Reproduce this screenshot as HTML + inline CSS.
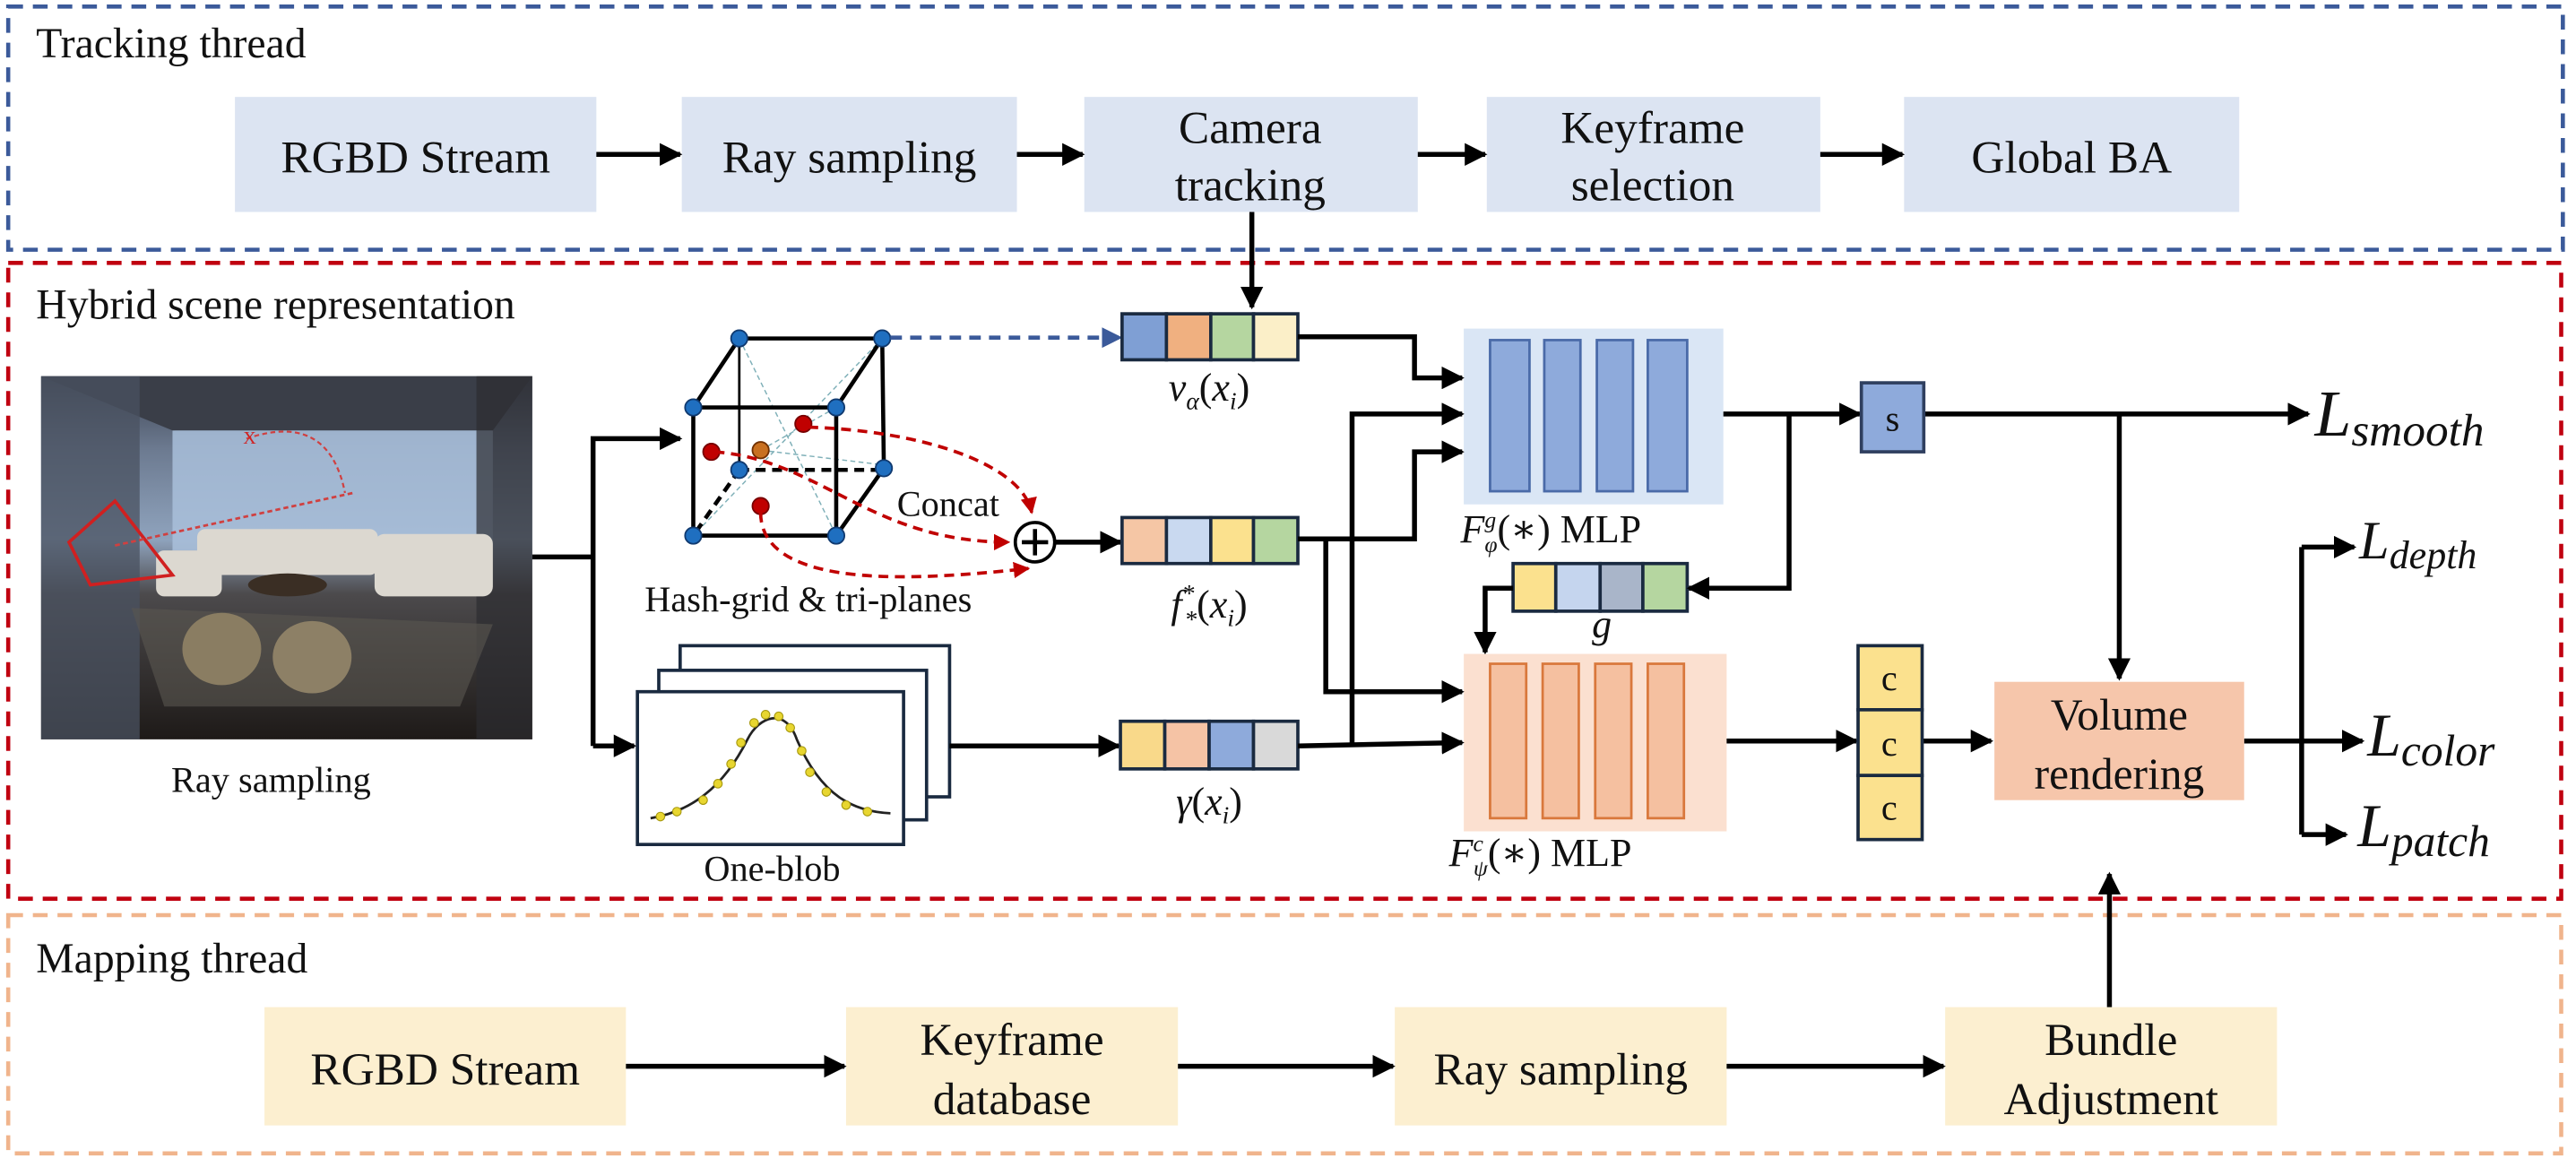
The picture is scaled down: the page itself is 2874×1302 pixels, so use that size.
<!DOCTYPE html>
<html><head><meta charset="utf-8"><style>
html,body{margin:0;padding:0;background:#fff;}
svg{display:block;}
svg text{font-family:"Liberation Serif","Times New Roman","Nimbus Roman","DejaVu Serif",serif;fill:#111;}
</style></head><body>
<svg width="2874" height="1302" viewBox="0 0 1568 710.3" preserveAspectRatio="none" xmlns="http://www.w3.org/2000/svg" font-family="'Liberation Serif', 'Times New Roman', serif">
<defs>
<marker id="a" viewBox="0 0 10 10" refX="9" refY="5" markerWidth="4.6" markerHeight="4.6" orient="auto" markerUnits="strokeWidth"><path d="M0,0 L10,5 L0,10 z" fill="#000"/></marker>
<marker id="ab" viewBox="0 0 10 10" refX="9" refY="5" markerWidth="5" markerHeight="5" orient="auto" markerUnits="strokeWidth"><path d="M0,0 L10,5 L0,10 z" fill="#3b5a9a"/></marker>
<marker id="ar" viewBox="0 0 10 10" refX="9" refY="5" markerWidth="5" markerHeight="5" orient="auto" markerUnits="strokeWidth"><path d="M0,0 L10,5 L0,10 z" fill="#c00000"/></marker>
<linearGradient id="room" x1="0" y1="0" x2="0" y2="1">
<stop offset="0" stop-color="#3c4250"/><stop offset="0.2" stop-color="#6c7a90"/><stop offset="0.45" stop-color="#8fa3bd"/><stop offset="0.6" stop-color="#4c4a4c"/><stop offset="1" stop-color="#1e1a18"/></linearGradient>
</defs>

<rect x="5" y="4" width="1555" height="148" fill="none" stroke="#3b5a9a" stroke-width="2.5" stroke-dasharray="9,6"/>
<rect x="5" y="160" width="1554" height="387" fill="none" stroke="#c00010" stroke-width="2.5" stroke-dasharray="9,6"/>
<rect x="5" y="557" width="1554" height="145" fill="none" stroke="#f0b48c" stroke-width="2.5" stroke-dasharray="9,6"/>

<text x="22" y="35" font-size="26">Tracking thread</text>
<text x="22" y="194" font-size="26">Hybrid scene representation</text>
<text x="22" y="592" font-size="26">Mapping thread</text>

<g fill="#dce4f2">
<rect x="143" y="59" width="220" height="70"/><rect x="415" y="59" width="204" height="70"/>
<rect x="660" y="59" width="203" height="70"/><rect x="905" y="59" width="203" height="70"/>
<rect x="1159" y="59" width="204" height="70"/></g>
<g font-size="28" text-anchor="middle">
<text x="253" y="105">RGBD Stream</text><text x="517" y="105">Ray sampling</text>
<text x="761" y="87">Camera</text><text x="761" y="122">tracking</text>
<text x="1006" y="87">Keyframe</text><text x="1006" y="122">selection</text>
<text x="1261" y="105">Global BA</text></g>
<g stroke="#000" stroke-width="3" marker-end="url(#a)">
<line x1="363" y1="94" x2="414" y2="94"/><line x1="619" y1="94" x2="659" y2="94"/>
<line x1="863" y1="94" x2="904" y2="94"/><line x1="1108" y1="94" x2="1158" y2="94"/>
<line x1="762" y1="129" x2="762" y2="187"/></g>

<g fill="#fcefd0">
<rect x="161" y="613" width="220" height="72"/><rect x="515" y="613" width="202" height="72"/>
<rect x="849" y="613" width="202" height="72"/><rect x="1184" y="613" width="202" height="72"/></g>
<g font-size="28" text-anchor="middle">
<text x="271" y="660">RGBD Stream</text>
<text x="616" y="642">Keyframe</text><text x="616" y="678">database</text>
<text x="950" y="660">Ray sampling</text>
<text x="1285" y="642">Bundle</text><text x="1285" y="678">Adjustment</text></g>
<g stroke="#000" stroke-width="3" marker-end="url(#a)">
<line x1="381" y1="649" x2="514" y2="649"/><line x1="717" y1="649" x2="848" y2="649"/>
<line x1="1051" y1="649" x2="1183" y2="649"/><line x1="1284" y1="613" x2="1284" y2="532"/></g>

<rect x="25" y="229" width="299" height="221" fill="url(#room)"/>
<polygon points="105,262 250,250 300,262 300,335 105,335" fill="#a9c0da" opacity="0.85"/>
<polygon points="25,229 324,229 300,262 105,262" fill="#3a3e48"/>
<rect x="25" y="229" width="60" height="221" fill="#4a5260" opacity="0.75"/>
<rect x="290" y="229" width="34" height="221" fill="#2c2c30" opacity="0.7"/>
<polygon points="100,430 280,430 300,380 80,370" fill="#5a5650" opacity="0.6"/>
<g fill="#dcd8d0"><rect x="120" y="322" width="110" height="28" rx="5"/><rect x="228" y="325" width="72" height="38" rx="6"/><rect x="95" y="335" width="40" height="28" rx="5"/></g>
<ellipse cx="135" cy="395" rx="24" ry="22" fill="#8a7d62"/><ellipse cx="190" cy="400" rx="24" ry="22" fill="#8d8066"/>
<ellipse cx="175" cy="356" rx="24" ry="7" fill="#3a2e24"/>
<path d="M42,330 L70,305 L105,350 L55,356 Z" fill="none" stroke="#d02020" stroke-width="2"/>
<path d="M70,332 L215,300" stroke="#d04040" stroke-width="1.5" stroke-dasharray="3,2"/>
<path d="M150,267 Q200,250 210,300" fill="none" stroke="#d04040" stroke-width="1.2" stroke-dasharray="3,2"/>
<text x="148" y="270" font-size="11" style="fill:#d02020">X</text>
<text x="165" y="482" font-size="22" text-anchor="middle">Ray sampling</text>

<g stroke="#000" stroke-width="3" fill="none">
<polyline points="324,339 361,339"/>
<polyline points="361,454 361,267 414,267" marker-end="url(#a)"/>
<polyline points="361,454 386,454" marker-end="url(#a)"/></g>

<g stroke="#7fb0b8" stroke-width="0.8" stroke-dasharray="3,2" fill="none">
<line x1="450" y1="206" x2="509" y2="326"/><line x1="537" y1="206" x2="422" y2="326"/>
<line x1="463" y1="274" x2="538" y2="283"/><line x1="463" y1="274" x2="509" y2="248"/></g>
<g stroke="#000" stroke-width="2.5" fill="none">
<rect x="422" y="248" width="87" height="78"/>
<line x1="450" y1="206" x2="537" y2="206"/><line x1="450" y1="206" x2="422" y2="248"/>
<line x1="537" y1="206" x2="509" y2="248"/><line x1="537" y1="206" x2="538" y2="285"/>
<line x1="538" y1="285" x2="509" y2="326"/>
<line x1="450" y1="206" x2="450" y2="286" stroke-width="1.5"/>
<line x1="450" y1="286" x2="538" y2="286" stroke-dasharray="6,4"/>
<line x1="450" y1="286" x2="422" y2="326" stroke-dasharray="6,4"/></g>
<g fill="#1f6fc0" stroke="#103a70" stroke-width="1">
<circle cx="450" cy="206" r="5"/><circle cx="537" cy="206" r="5"/><circle cx="422" cy="248" r="5"/><circle cx="509" cy="248" r="5"/>
<circle cx="450" cy="286" r="5"/><circle cx="538" cy="285" r="5"/><circle cx="422" cy="326" r="5"/><circle cx="509" cy="326" r="5"/></g>
<g fill="#c00000" stroke="#700" stroke-width="1">
<circle cx="489" cy="258" r="5"/><circle cx="433" cy="275" r="5"/><circle cx="463" cy="308" r="5"/></g>
<circle cx="463" cy="274" r="5" fill="#c87020" stroke="#703000"/>
<g stroke="#c00000" stroke-width="2" fill="none" stroke-dasharray="6,4">
<path d="M492,260 C560,262 622,282 628,312" marker-end="url(#ar)"/>
<path d="M435,275 C500,280 530,330 614,330" marker-end="url(#ar)"/>
<path d="M463,312 C463,362 570,352 626,346" marker-end="url(#ar)"/></g>
<circle cx="630" cy="330" r="12" fill="#fff" stroke="#000" stroke-width="2"/>
<path d="M622,330 H638 M630,322 V338" stroke="#000" stroke-width="2.5"/>
<text x="546" y="314" font-size="22">Concat</text>
<line x1="542" y1="205.5" x2="682" y2="205.5" stroke="#3b5a9a" stroke-width="2.5" stroke-dasharray="7,5" marker-end="url(#ab)"/>
<line x1="642" y1="330" x2="682" y2="330" stroke="#000" stroke-width="3" marker-end="url(#a)"/>
<text x="492" y="372" font-size="22" text-anchor="middle">Hash-grid &amp; tri-planes</text>

<g fill="#fff" stroke="#1a2a40" stroke-width="2">
<rect x="414" y="393" width="164" height="92"/><rect x="401" y="408" width="163" height="91"/><rect x="388" y="421" width="162" height="93"/></g>
<path d="M396,498 C420,494 440,480 455,450 C462,436 478,430 485,450 C500,485 520,494 542,495" fill="none" stroke="#222" stroke-width="1.5"/>
<g fill="#e8d630" stroke="#a89a10" stroke-width="0.6">
<circle cx="402" cy="497" r="2.6"/><circle cx="412" cy="494" r="2.6"/><circle cx="428" cy="487" r="2.6"/><circle cx="437" cy="477" r="2.6"/><circle cx="445" cy="465" r="2.6"/><circle cx="451" cy="452" r="2.6"/><circle cx="459" cy="440" r="2.6"/><circle cx="466" cy="435" r="2.6"/><circle cx="474" cy="436" r="2.6"/><circle cx="481" cy="443" r="2.6"/><circle cx="488" cy="457" r="2.6"/><circle cx="493" cy="470" r="2.6"/><circle cx="503" cy="482" r="2.6"/><circle cx="515" cy="490" r="2.6"/><circle cx="528" cy="494" r="2.6"/></g>
<text x="470" y="536" font-size="22" text-anchor="middle">One-blob</text>
<line x1="578" y1="454" x2="681" y2="454" stroke="#000" stroke-width="3" marker-end="url(#a)"/>

<g stroke="#1a2a40" stroke-width="2">
<rect x="683" y="191" width="27" height="28" fill="#7f9fd4"/><rect x="710" y="191" width="27" height="28" fill="#f0b080"/><rect x="737" y="191" width="26" height="28" fill="#b5d6a0"/><rect x="763" y="191" width="27" height="28" fill="#fbefc8"/>
<rect x="683" y="315" width="27" height="28" fill="#f5c6a5"/><rect x="710" y="315" width="27" height="28" fill="#c9d9f0"/><rect x="737" y="315" width="26" height="28" fill="#fbe18e"/><rect x="763" y="315" width="27" height="28" fill="#b5d6a0"/>
<rect x="682" y="439" width="27" height="29" fill="#f9d98a"/><rect x="709" y="439" width="27" height="29" fill="#f5c3a5"/><rect x="736" y="439" width="27" height="29" fill="#8eaadb"/><rect x="763" y="439" width="27" height="29" fill="#d9d9d9"/>
<rect x="921" y="343" width="26" height="29" fill="#fbe18e"/><rect x="947" y="343" width="27" height="29" fill="#c5d5ee"/><rect x="974" y="343" width="26" height="29" fill="#a9b5c9"/><rect x="1000" y="343" width="27" height="29" fill="#b5d6a0"/></g>
<g font-size="24" font-style="italic" text-anchor="middle">
<text x="736" y="244">ν<tspan font-size="15" dy="5">α</tspan><tspan dy="-5" font-style="normal">(</tspan>x<tspan font-size="15" dy="5">i</tspan><tspan dy="-5" font-style="normal">)</tspan></text>
<text x="736" y="376">f<tspan font-size="15" dy="-10">*</tspan><tspan font-size="15" dx="-6" dy="16">*</tspan><tspan dy="-6" font-style="normal">(</tspan>x<tspan font-size="15" dy="5">i</tspan><tspan dy="-5" font-style="normal">)</tspan></text>
<text x="736" y="496">γ<tspan font-style="normal">(</tspan>x<tspan font-size="15" dy="5">i</tspan><tspan dy="-5" font-style="normal">)</tspan></text>
<text x="975" y="388">g</text></g>

<rect x="891" y="200" width="158" height="107" fill="#dae6f5"/>
<g fill="#8eaadb" stroke="#4a6aa8" stroke-width="1.5">
<rect x="907" y="207" width="24" height="92"/><rect x="940" y="207" width="22" height="92"/><rect x="972" y="207" width="22" height="92"/><rect x="1003" y="207" width="24" height="92"/></g>
<text x="889" y="330" font-size="24"><tspan font-style="italic">F</tspan><tspan font-size="14" font-style="italic" dy="-9">g</tspan><tspan font-size="14" font-style="italic" dx="-7" dy="15">φ</tspan><tspan dy="-6">(∗) MLP</tspan></text>

<rect x="891" y="398" width="160" height="108" fill="#fbe0d0"/>
<g fill="#f5c0a0" stroke="#d9783c" stroke-width="1.5">
<rect x="907" y="404" width="22" height="94"/><rect x="939" y="404" width="22" height="94"/><rect x="971" y="404" width="22" height="94"/><rect x="1003" y="404" width="22" height="94"/></g>
<text x="882" y="527" font-size="24"><tspan font-style="italic">F</tspan><tspan font-size="14" font-style="italic" dy="-9">c</tspan><tspan font-size="14" font-style="italic" dx="-6" dy="15">ψ</tspan><tspan dy="-6">(∗)  MLP</tspan></text>

<g stroke="#000" stroke-width="3" fill="none">
<polyline points="790,205 861,205 861,230 890,230" marker-end="url(#a)"/>
<polyline points="790,328 861,328 861,275 890,275" marker-end="url(#a)"/>
<polyline points="823,454 823,252 890,252" marker-end="url(#a)"/>
<polyline points="807,328 807,421 890,421" marker-end="url(#a)"/>
<polyline points="790,454 890,452" marker-end="url(#a)"/>
<polyline points="1049,252 1132,252" marker-end="url(#a)"/>
<polyline points="1089,252 1089,358 1028,358" marker-end="url(#a)"/>
<polyline points="921,358 904,358 904,397" marker-end="url(#a)"/>
<polyline points="1051,451 1130,451" marker-end="url(#a)"/>
<polyline points="1170,451 1212,451" marker-end="url(#a)"/>
<polyline points="1171,252 1405,252" marker-end="url(#a)"/>
<polyline points="1290,252 1290,413" marker-end="url(#a)"/>
<polyline points="1366,451 1438,451" marker-end="url(#a)"/>
<polyline points="1401,333 1401,508"/>
<polyline points="1401,333 1433,333" marker-end="url(#a)"/>
<polyline points="1401,508 1428,508" marker-end="url(#a)"/></g>

<rect x="1133" y="233" width="38" height="42" fill="#8eaadb" stroke="#2f3f5f" stroke-width="2"/>
<text x="1152" y="262" font-size="22" text-anchor="middle">s</text>

<g fill="#fbe18e" stroke="#1a2a40" stroke-width="2">
<rect x="1131" y="393" width="39" height="39"/><rect x="1131" y="432" width="39" height="40"/><rect x="1131" y="472" width="39" height="39"/></g>
<g font-size="22" text-anchor="middle"><text x="1150" y="420">c</text><text x="1150" y="460">c</text><text x="1150" y="499">c</text></g>

<rect x="1214" y="415" width="152" height="72" fill="#f6c6ab"/>
<g font-size="27" text-anchor="middle"><text x="1290" y="444">Volume</text><text x="1290" y="480">rendering</text></g>

<g font-style="italic">
<text x="1409" y="265" font-size="40">L<tspan font-size="28" dy="6">smooth</tspan></text>
<text x="1436" y="340" font-size="33">L<tspan font-size="24" dy="6">depth</tspan></text>
<text x="1441" y="460" font-size="37">L<tspan font-size="27" dy="6">color</tspan></text>
<text x="1435" y="515" font-size="37">L<tspan font-size="27" dy="6">patch</tspan></text></g>
</svg>
</body></html>
